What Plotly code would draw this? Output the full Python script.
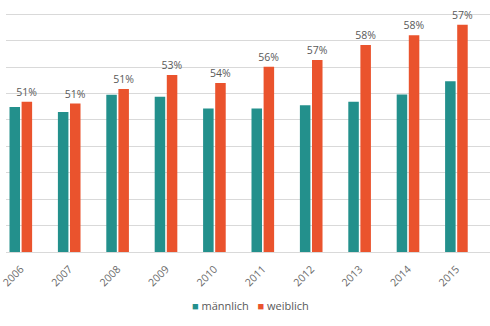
import plotly.graph_objects as go

years = ["2006", "2007", "2008", "2009", "2010", "2011", "2012", "2013", "2014", "2015"]
maennlich = [5490, 5300, 5960, 5880, 5440, 5440, 5560, 5690, 5970, 6470]
weiblich = [5690, 5620, 6170, 6700, 6400, 7020, 7270, 7840, 8210, 8610]
anteil_labels = ["51%", "51%", "51%", "53%", "54%", "56%", "57%", "58%", "58%", "57%"]
series_names = ["männlich", "weiblich"]

teal = "#23908c"
orange = "#ea532d"
gray = "#595959"
font_family = "Open Sans, Noto Sans, sans-serif"

fig = go.Figure()
fig.add_trace(go.Bar(
    name=series_names[0], x=years, y=maennlich,
    marker=dict(color=teal, line=dict(width=0)),
))
fig.add_trace(go.Bar(
    name=series_names[1], x=years, y=weiblich,
    marker=dict(color=orange, line=dict(width=0)),
    text=anteil_labels, textposition="outside", cliponaxis=False,
    constraintext="none",
    textfont=dict(size=10.5, color=gray, family=font_family),
))

legend_text = (
    f"<span style='color:{teal}'>■</span> {series_names[0]}"
    f"&nbsp;&nbsp;&nbsp;<span style='color:{orange}'>■</span> {series_names[1]}"
)

fig.update_layout(
    width=490, height=326,
    margin=dict(l=0, r=0, t=0, b=74),
    paper_bgcolor="white", plot_bgcolor="white",
    barmode="group", bargap=0.5, bargroupgap=0.13,
    font=dict(family=font_family, color=gray, size=10.5),
    showlegend=False,
    annotations=[dict(
        text=legend_text, xref="paper", yref="paper", x=0.505, y=-0.214,
        xanchor="center", yanchor="middle", showarrow=False,
        font=dict(size=11, color=gray, family=font_family),
    )],
    xaxis=dict(
        type="category", range=[-0.306, 9.694],
        tickangle=-45, tickfont=dict(size=10.5, color="#6a6a6a"),
        ticklabelstandoff=6,
        showline=True, linecolor="#d9d9d9", linewidth=1,
        ticks="", showgrid=False,
    ),
    yaxis=dict(
        range=[0, 9545], dtick=1000, showticklabels=False,
        showgrid=True, gridcolor="#d9d9d9", gridwidth=1,
        zeroline=False, ticks="",
    ),
)

fig.write_html("out.html")
